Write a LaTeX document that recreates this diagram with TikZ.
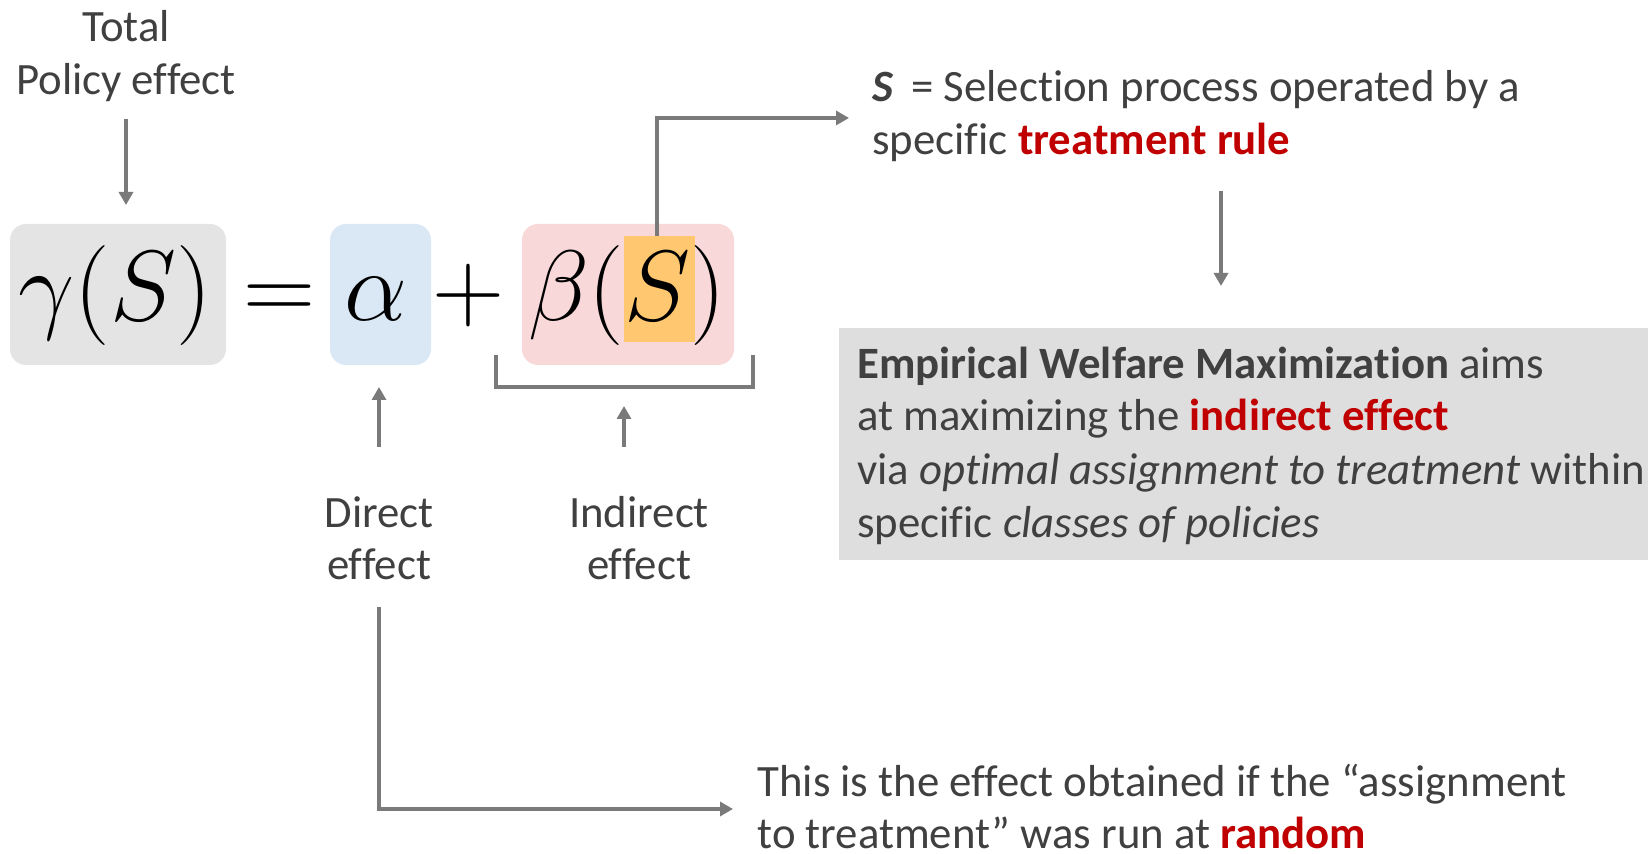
\documentclass[tikz,border=0pt]{standalone}
\usepackage{fix-cm}
\usepackage{fontspec}
\setmainfont[Ligatures={TeX,NoCommon}]{Carlito}
\usetikzlibrary{arrows.meta}
\definecolor{txt}{HTML}{404040}
\definecolor{rd}{HTML}{C00000}
\definecolor{ln}{HTML}{7A7A7A}
\definecolor{gfill}{HTML}{E4E4E4}
\definecolor{bfill}{HTML}{DAE8F5}
\definecolor{pfill}{HTML}{F8D8D8}
\definecolor{ofill}{HTML}{FFC870}
\definecolor{bigfill}{HTML}{DEDEDE}
\tikzset{
  lbl/.style={inner sep=0pt, text=txt, font=\fontsize{22.4}{27}\selectfont},
  mth/.style={inner sep=0pt, anchor=base, font=\fontsize{50}{60}\selectfont},
  eqbox/.style={rounded corners=8pt, inner sep=0pt, minimum height=70.5pt},
  arr/.style={draw=ln, line width=1.7pt, -{Triangle[length=6.5pt,width=7pt]}},
  brk/.style={draw=ln, line width=2pt}
}
\begin{document}
\begin{tikzpicture}[x=0.5pt,y=-0.5pt]
\useasboundingbox (0,0) rectangle (1648,854);
% equation boxes
\node[eqbox, fill=gfill, minimum width=108pt] (g) at (118,294.5) {};
\node[eqbox, fill=bfill, minimum width=50.5pt] (a) at (380.5,294.5) {};
\node[eqbox, fill=pfill, minimum width=106pt] (b) at (628,294.5) {};
\node[fill=ofill, inner sep=0pt, minimum width=35.5pt, minimum height=53pt] (s) at (659.5,289) {};
% math
\node[mth] (mg) at (115,321) {$\gamma(S)$};
\node[mth] (meq) at (279,321) {$=$};
\node[mth] (ma) at (376,321) {$\alpha$};
\node[mth] (mp) at (468,321) {$+$};
\node[mth] (mb) at (627,321) {$\beta(S)$};
% bracket
\coordinate (bl) at (496,355);
\coordinate (br) at (753,355);
\draw[brk] (bl) -- ++(0,32) -| (br);
% top-left label
\node[lbl, anchor=base] (t1) at (126,42) {Total};
\node[lbl, anchor=base] (t2) at (126,95) {Policy effect};
\coordinate (ta) at (126,119);
\coordinate (tb) at (126,205);
\draw[arr] (ta) -- (tb);
% direct / indirect
\node[lbl, anchor=base] (d1) at (379,528) {Direct};
\node[lbl, anchor=base] (d2) at (379,580) {effect};
\node[lbl, anchor=base] (i1) at (639,528) {Indirect};
\node[lbl, anchor=base] (i2) at (639,580) {effect};
\coordinate (da) at (379,447);
\coordinate (db) at (379,387);
\draw[arr] (da) -- (db);
\coordinate (ia) at (624,447);
\coordinate (ib) at (624,406);
\draw[arr] (ia) -- (ib);
% selection text
\node[lbl, anchor=base west] (s1) at (872,102) {\textbf{\textit{S}} \,= Selection process operated by a};
\node[lbl, anchor=base west] (s2) at (872,155) {specific \textbf{\color{rd}treatment rule}};
\coordinate (sc) at (657,118);
\coordinate (se) at (849,118);
\draw[arr] (s.north -| sc) -- (sc) -- (se);
\coordinate (dn1) at (1221,191);
\coordinate (dn2) at (1221,286);
\draw[arr] (dn1) -- (dn2);
% big box
\node[fill=bigfill, inner sep=0pt, anchor=north west, minimum width=404.5pt, minimum height=116pt] (ewm) at (839,328) {};
\node[lbl, anchor=base west] (e1) at (857,379) {\textbf{Empirical Welfare Maximization} aims};
\node[lbl, anchor=base west] (e2) at (857,431) {at maximizing the \textbf{\color{rd}indirect effect}};
\node[lbl, anchor=base west] (e3) at (857,485) {via \textit{optimal assignment to treatment} within};
\node[lbl, anchor=base west] (e4) at (857,538) {specific \textit{classes of policies}};
% bottom text
\node[lbl, anchor=base west] (r1) at (757,796) {This is the effect obtained if the “assignment};
\node[lbl, anchor=base west] (r2) at (757,848) {to treatment” was run at \textbf{\color{rd}random}};
\coordinate (dt) at (379,607);
\coordinate (dc) at (379,809);
\coordinate (de) at (733,809);
\draw[arr] (dt) -- (dc) -- (de);
\end{tikzpicture}
\end{document}
